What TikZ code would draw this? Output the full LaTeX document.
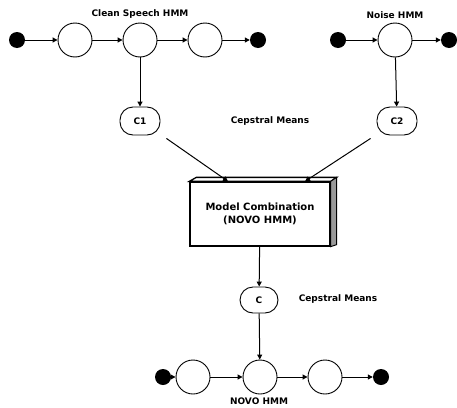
\documentclass[tikz,border=0pt]{standalone}
\usepackage{fontspec}
\setmainfont{DejaVu Sans}
\usepackage{tikz}
\usetikzlibrary{positioning,arrows.meta}

\begin{document}
\begin{tikzpicture}[x=1pt, y=-1pt,
  >={Triangle[length=5pt,width=5pt]},
  st/.style={draw, circle, minimum size=34pt, inner sep=0pt, line width=0.9pt},
  term/.style={circle, fill=black, minimum size=16pt, inner sep=0pt},
  mean/.style={draw, line width=0.9pt, rounded corners=13pt, minimum width=40pt, minimum height=28pt, inner sep=0pt, font=\bfseries\fontsize{9}{10}\selectfont},
  hmm/.style={font=\bfseries\fontsize{9}{10}\selectfont},
  comb/.style={draw, line width=1.3pt, fill=white, minimum width=140pt, minimum height=64pt, align=center, font=\bfseries\fontsize{10}{13}\selectfont},
  link/.style={->, line width=1pt}]
\useasboundingbox (0,0) rectangle (457,407);
\node[term] (s1) at (17,40) {};
\node[st]   (s2) at (75,40) {};
\node[st]   (s3) at (140,40) {};
\node[st]   (s4) at (205,40) {};
\node[term] (s5) at (258,40) {};
\node[hmm]  (cleanlbl) at (140,14) {Clean Speech HMM};
\node[term] (n1) at (338,40) {};
\node[st]   (n2) at (395,40) {};
\node[term] (n3) at (449,40) {};
\node[hmm]  (noiselbl) at (395,15) {Noise HMM};
\node[mean] (c1) at (140,121) {C1};
\node[mean] (c2) at (397,121) {C2};
\node[hmm]  (cm1) at (270,121) {Cepstral Means};
\node[comb] (comb) at (260,214) {Model Combination\\(NOVO HMM)};
\draw[line width=1.3pt, fill=white] (comb.north west) -- ([shift={(7pt,4pt)}]comb.north west) -- ([shift={(6pt,4pt)}]comb.north east) -- (comb.north east) -- cycle;
\draw[line width=1pt, fill=black!40] (comb.north east) -- ([shift={(6pt,4pt)}]comb.north east) -- ([shift={(6pt,2pt)}]comb.south east) -- (comb.south east) -- cycle;
\node[mean, minimum width=38pt, minimum height=26pt] (c) at (259,300) {C};
\node[hmm]  (cm2) at (338,299) {Cepstral Means};
\node[term] (b1) at (163,377) {};
\node[st]   (b2) at (193,377) {};
\node[st]   (b3) at (260,377) {};
\node[st]   (b4) at (325,377) {};
\node[term] (b5) at (381,377) {};
\node[hmm]  (novolbl) at (259,401) {NOVO HMM};
\draw[link] (s1) -- (s2);
\draw[link] (s2) -- (s3);
\draw[link] (s3) -- (s4);
\draw[link] (s4) -- (s5);
\draw[link] (n1) -- (n2);
\draw[link] (n2) -- (n3);
\draw[link] (s3) -- (c1);
\draw[link] (n2) -- (c2);
\draw[link] ([shift={(6pt,-3pt)}]c1.south east) -- ([xshift=-32pt]comb.north);
\draw[link] ([shift={(-6pt,-3pt)}]c2.south west) -- ([xshift=45pt]comb.north);
\draw[link] (comb) -- (c);
\draw[link] (c) -- (b3);
\draw[link] (b1) -- (b2);
\draw[link] (b2) -- (b3);
\draw[link] (b3) -- (b4);
\draw[link] (b4) -- (b5);
\end{tikzpicture}
\end{document}
